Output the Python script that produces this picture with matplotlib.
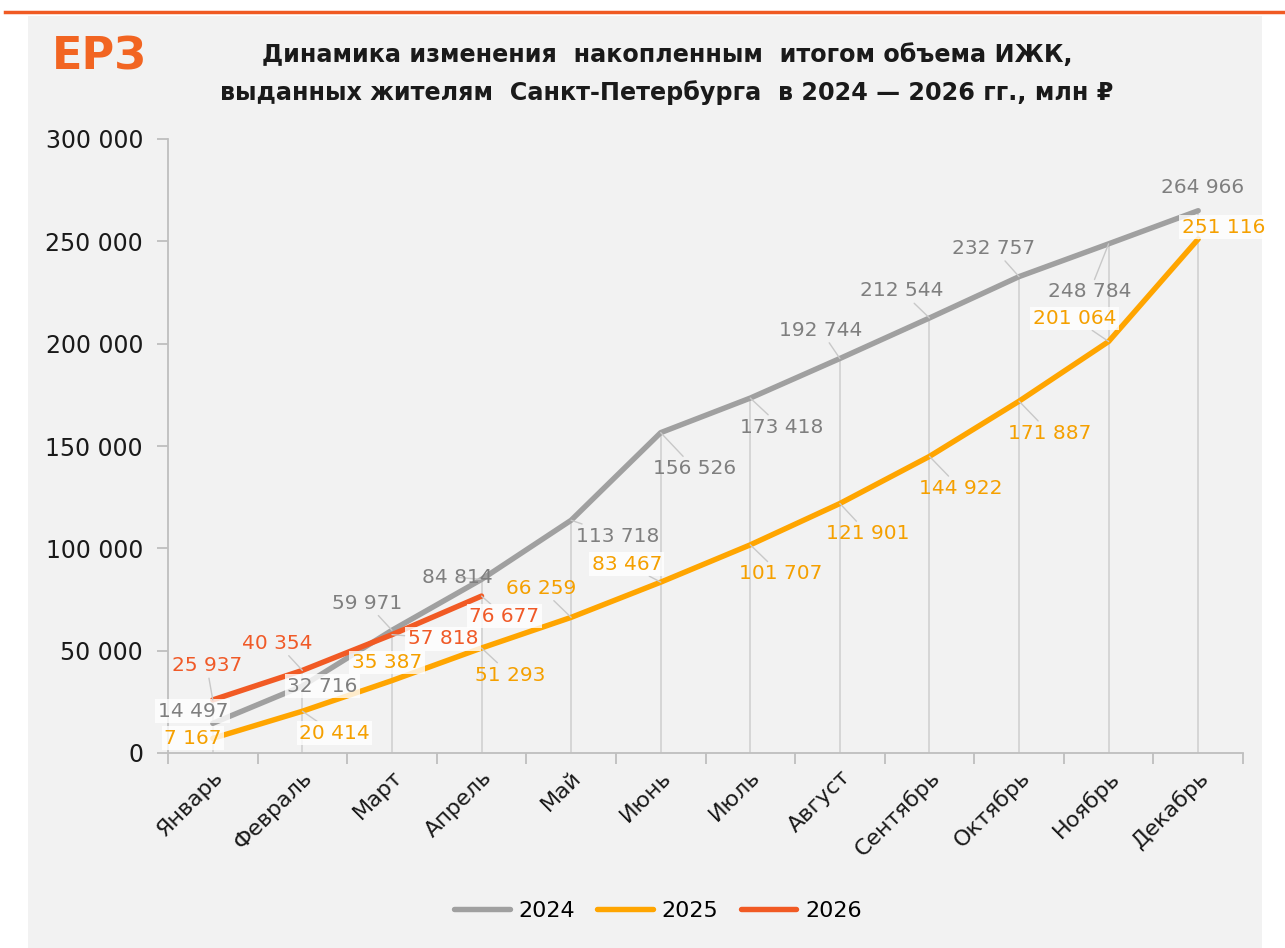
import matplotlib
matplotlib.use("Agg")
import matplotlib.pyplot as plt
import matplotlib.patches as patches
import numpy as np

months = ["Январь", "Февраль", "Март", "Апрель", "Май", "Июнь",
          "Июль", "Август", "Сентябрь", "Октябрь", "Ноябрь", "Декабрь"]
v2024 = [14497, 32716, 59971, 84814, 113718, 156526,
         173418, 192744, 212544, 232757, 248784, 264966]
v2025 = [7167, 20414, 35387, 51293, 66259, 83467,
         101707, 121901, 144922, 171887, 201064, 251116]
v2026 = [25937, 40354, 57818, 76677]

# label offsets in pixels (dx, dy up), and whether a white box is behind the label
off2024 = [(-20, 12), (20, 0), (-25, 27), (-24, 2), (47, -16), (34, -36),
           (31, -29), (-19, 28), (-28, 27), (-25, 28), (-19, -48), (4, 23)]
box2024 = [1, 1, 0, 0, 0, 0, 0, 0, 0, 0, 0, 0]
off2025 = [(-20, 0), (32, -22), (-5, 18), (29, -27), (-30, 29), (-34, 18),
           (30, -29), (28, -30), (31, -32), (31, -32), (-34, 23), (25, 12)]
box2025 = [1, 1, 1, 0, 0, 1, 0, 0, 0, 0, 1, 1]
off2026 = [(-6, 34), (-25, 27), (51, -4), (23, -20)]
box2026 = [0, 0, 1, 1]

c24, c25, c26 = "#a0a0a0", "#ffa500", "#f15a24"
t24, t25, t26 = "#7f7f7f", "#f5a000", "#f05a28"

plt.rcParams['font.family'] = ['DejaVu Sans']

fig = plt.figure(figsize=(12.85, 9.48), dpi=100)
fig.patch.set_facecolor("white")

# grey panel and the orange rule on top
fig.patches.append(patches.Rectangle((28 / 1285, 0), (1262 - 28) / 1285, 1 - 16 / 948,
                                     transform=fig.transFigure, facecolor="#f2f2f2",
                                     edgecolor="none", zorder=-10))
fig.add_artist(plt.Line2D([5 / 1285, 1], [1 - 12 / 948, 1 - 12 / 948],
                          transform=fig.transFigure, color="#f05a23", lw=2.5))

ax = fig.add_axes([168 / 1285, 1 - 753 / 948, (1243 - 168) / 1285, (753 - 139) / 948])
ax.set_facecolor("none")

x = np.arange(len(months))
tops = [max(a, b) if i >= len(v2026) else max(a, b, v2026[i])
        for i, (a, b) in enumerate(zip(v2024, v2025))]
ax.vlines(x, 0, tops, color="#d4d4d4", lw=1.3, zorder=1)

ax.plot(x, v2024, color=c24, lw=3.9, solid_capstyle="round", label="2024", zorder=3)
ax.plot(x, v2025, color=c25, lw=3.9, solid_capstyle="round", label="2025", zorder=3)
ax.plot(x[:len(v2026)], v2026, color=c26, lw=3.9, solid_capstyle="round",
        label="2026", zorder=4)


def fmt(v):
    return f"{v:,}".replace(",", " ")


def labels(vals, offs, boxes, col):
    for i, (v, (dx, dy), b) in enumerate(zip(vals, offs, boxes)):
        far = (dx * dx + dy * dy) ** 0.5 > 24
        kw = {}
        if b:
            kw["bbox"] = dict(boxstyle="square,pad=0.12", fc="white", ec="none", alpha=0.8)
        if far:
            kw["arrowprops"] = dict(arrowstyle="-", color="#c8c8c8", lw=1,
                                    shrinkA=0, shrinkB=0)
        ax.annotate(fmt(v), (x[i], v), xytext=(dx, dy), textcoords="offset pixels",
                    ha="center", va="center", fontsize=14.5, color=col, zorder=6, **kw)


labels(v2024, off2024, box2024, t24)
labels(v2025, off2025, box2025, t25)
labels(v2026, off2026, box2026, t26)

ax.set_xlim(-0.5, 11.5)
ax.set_ylim(0, 300000)
ax.set_yticks(np.arange(0, 300001, 50000))
ax.set_yticklabels([fmt(v) for v in range(0, 300001, 50000)], fontsize=17, color="#1a1a1a")
ax.set_xticks(x)
ax.set_xticklabels(months, rotation=45, ha="right", va="top", rotation_mode="anchor",
                   fontsize=16, color="#1a1a1a")
ax.set_xticks(np.arange(-0.5, 12, 1), minor=True)
ax.tick_params(axis="x", which="major", length=0, pad=10)
ax.tick_params(axis="x", which="minor", length=8, color="#bfbfbf", width=1.3)
ax.tick_params(axis="y", length=8, color="#bfbfbf", width=1.3, pad=10)
for s in ["top", "right"]:
    ax.spines[s].set_visible(False)
for s in ["left", "bottom"]:
    ax.spines[s].set_color("#bfbfbf")
    ax.spines[s].set_linewidth(1.3)

fig.text(52 / 1285, 1 - 57 / 948, "ЕРЗ", fontsize=32, fontweight="bold",
         color="#f26522", ha="left", va="center")
fig.text(667 / 1285, 1 - 55 / 948,
         "Динамика изменения  накопленным  итогом объема ИЖК,",
         fontsize=17.2, fontweight="bold", color="#1a1a1a", ha="center", va="center")
fig.text(667 / 1285, 1 - 93 / 948,
         "выданных жителям  Санкт-Петербурга  в 2024 — 2026 гг., млн ₽",
         fontsize=17.2, fontweight="bold", color="#1a1a1a", ha="center", va="center")

fig.legend(loc="center", bbox_to_anchor=(658 / 1285, 1 - 911 / 948), ncol=3,
           frameon=False, fontsize=16, handlelength=2.5, columnspacing=1.0,
           handletextpad=0.4)

fig.savefig("out.png", dpi=100, facecolor=fig.get_facecolor())
